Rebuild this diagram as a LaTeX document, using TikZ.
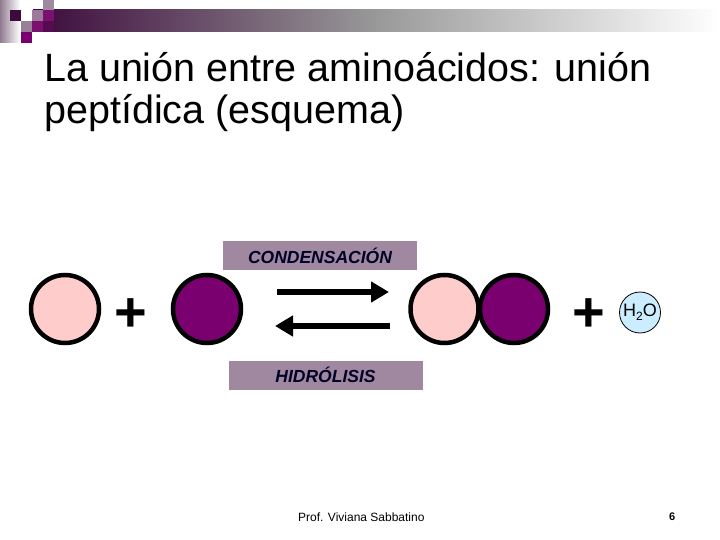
\documentclass[tikz,border=0pt]{standalone}
\usepackage{fontspec}
\setmainfont{Liberation Sans}
\usetikzlibrary{arrows.meta}
\definecolor{pinkf}{RGB}{255,204,204}
\definecolor{purpf}{RGB}{122,0,112}
\definecolor{mauve}{RGB}{160,136,160}
\definecolor{waterf}{RGB}{204,236,255}
\definecolor{dpurp}{RGB}{60,10,60}
\definecolor{mpurp}{RGB}{122,16,112}
\tikzset{
  aa/.style={circle,draw=black,line width=4.5pt,minimum size=68pt,inner sep=0pt},
  pinkaa/.style={aa,fill=pinkf},
  purpaa/.style={aa,fill=purpf},
  plussign/.style={font=\fontsize{56}{56}\selectfont\bfseries,inner sep=0pt},
  labbox/.style={fill=mauve,minimum width=194pt,minimum height=29pt,inner sep=0pt,font=\fontsize{17.5}{17.5}\selectfont\bfseries\itshape,text=black!85!blue},
  rxarrow/.style={line width=6.5pt,-{Triangle[width=20pt,length=18pt]}},
  sq/.style={minimum size=11pt,inner sep=0pt,anchor=north west}
}
\begin{document}
\begin{tikzpicture}[x=1pt,y=-1pt]
\useasboundingbox (0,0) rectangle (720,540);
\fill[white] (0,0) rectangle (720,540);
% header decoration
\shade[left color=mauve!90!black,right color=white] (0,0) rectangle (20,43);
\shade[left color=dpurp,right color=white,middle color=gray!80] (33,10) rectangle (720,32);
\node[sq,fill=mauve] (s1) at (43,0) {};
\node[sq,fill=dpurp] (s2) at (10,10) {};
\node[sq,fill=mauve!90!purpf] (s3) at (32,10) {};
\node[sq,fill=mpurp] (s4) at (43,10) {};
\node[sq,fill=mauve!95!black] (s5) at (21,21) {};
\node[sq,fill=mpurp] (s6) at (32,21) {};
\node[sq,fill=mpurp!70!black] (s7) at (43,21) {};
\node[sq,fill=purpf] (s8) at (21,32) {};
% title
\node[anchor=north west,align=left,inner sep=0pt,font=\fontsize{39.5}{42.5}\selectfont] (title) at (44,52) {La unión entre aminoácidos: unión\\peptídica (esquema)};
% molecules
\node[pinkaa] (a1) at (65,309) {};
\node[plussign] (p1) at (131,315) {+};
\node[purpaa] (a2) at (207,309) {};
\node[pinkaa] (b1) at (444.5,309) {};
\node[purpaa] (b2) at (514,309) {};
\node[plussign] (p2) at (589,315) {+};
\node[circle,draw=black,line width=0.8pt,fill=waterf,minimum size=41pt,inner sep=0pt,font=\fontsize{18}{18}\selectfont] (w) at (640,312.5) {H\raisebox{-0.4ex}{\fontsize{12}{12}\selectfont 2}O};
% labels
\node[labbox] (cond) at (320,255.5) {CONDENSACIÓN};
\node[labbox] (hidr) at (325.5,375) {HIDRÓLISIS};
% arrows
\coordinate (f1) at (277,292);
\coordinate (f2) at (389,292);
\coordinate (r1) at (390,326);
\coordinate (r2) at (275,326);
\draw[rxarrow] (f1) -- (f2);
\draw[rxarrow] (r1) -- (r2);
% footer
\node[anchor=base west,inner sep=0pt,font=\fontsize{12}{12}\selectfont] (auth) at (298,521) {Prof. Viviana Sabbatino};
\node[anchor=base west,inner sep=0pt,font=\fontsize{11}{11}\selectfont\bfseries] (num) at (669,520) {6};
\end{tikzpicture}
\end{document}
